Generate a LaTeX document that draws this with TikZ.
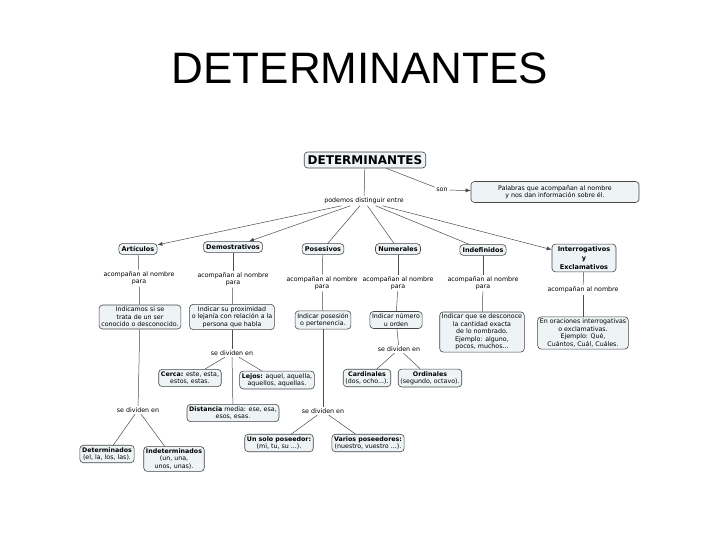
\documentclass[tikz,border=0pt]{standalone}
\usepackage{fontspec}
\newfontfamily\mapfont{DejaVu Sans}
\newfontfamily\titlefont{Liberation Sans}
\usetikzlibrary{arrows.meta}
\definecolor{boxfill}{RGB}{238,243,245}
\definecolor{boxline}{RGB}{70,70,70}

\tikzset{
  concept/.style={draw=boxline,line width=0.6pt,fill=boxfill,rounded corners=3.5pt,align=center,inner sep=2.2pt,font=\mapfont\fontsize{6.3}{7.4}\selectfont},
  maintopic/.style={concept,font=\mapfont\bfseries\fontsize{6.5}{7.6}\selectfont,inner sep=2.8pt},
  linkword/.style={align=center,inner sep=1.5pt,font=\mapfont\fontsize{6.3}{7.2}\selectfont},
  link/.style={draw=black!70,line width=0.5pt},
  arrowlink/.style={link,-{Latex[length=5pt,width=4pt]}}
}

\begin{document}
\begin{tikzpicture}[x=1pt,y=-1pt]
  \useasboundingbox[fill=white] (0,0) rectangle (720,540);
  %title
  \node[font=\titlefont\fontsize{44}{44}\selectfont] (title) at (360,68) {DETERMINANTES};
  %top
  \node[concept,font=\mapfont\bfseries\fontsize{12}{14}\selectfont,inner sep=3.5pt] (det) at (365,160) {DETERMINANTES};
  \node[linkword] (son) at (442,190) {son};
  \node[concept,minimum width=168pt,minimum height=21pt] (def) at (555,192) {Palabras que acompañan al nombre\\y nos dan información sobre él.};
  \node[linkword] (dist) at (364,201) {podemos distinguir entre};
  \draw[link] (det) -- (son);
  \draw[arrowlink] (son) -- (def);
  \draw[link] (det) -- (dist);
  %kinds
  \node[maintopic] (art) at (138,249) {Artículos};
  \node[maintopic] (dem) at (233,247) {Demostrativos};
  \node[maintopic] (pos) at (323,249) {Posesivos};
  \node[maintopic] (num) at (398,249) {Numerales};
  \node[maintopic] (ind) at (483,250) {Indefinidos};
  \node[maintopic,font=\mapfont\bfseries\fontsize{6.5}{8.6}\selectfont,minimum width=64pt] (int) at (584,258) {Interrogativos\\y\\Exclamativos};
  \draw[arrowlink] (dist) -- (art);
  \draw[arrowlink] (dist) -- (dem);
  \draw[link] (dist) -- (pos);
  \draw[link] (dist) -- (num);
  \draw[link] (dist) -- (ind);
  \draw[arrowlink] (dist) -- (int);
  %what they do
  \node[linkword] (artl) at (139,278) {acompañan al nombre\\para};
  \node[linkword] (deml) at (233,279) {acompañan al nombre\\para};
  \node[linkword] (posl) at (322,283) {acompañan al nombre\\para};
  \node[linkword] (numl) at (398,283) {acompañan al nombre\\para};
  \node[linkword] (indl) at (483,283) {acompañan al nombre\\para};
  \node[linkword] (intl) at (583,290) {acompañan al nombre};
  \node[concept] (artd) at (140,317) {Indicamos si se\\trata de un ser\\conocido o desconocido.};
  \node[concept] (demd) at (232,317) {Indicar su proximidad\\o lejanía con relación a la\\persona que habla};
  \node[concept] (posd) at (323,320) {Indicar posesión\\o pertenencia.};
  \node[concept] (numd) at (396,320) {Indicar número\\u orden};
  \node[concept] (indd) at (482,332) {Indicar que se desconoce\\la cantidad exacta\\de lo nombrado.\\Ejemplo: alguno,\\pocos, muchos...};
  \node[concept] (intd) at (583,333) {En oraciones interrogativas\\o exclamativas.\\Ejemplo: Qué,\\Cuántos, Cuál, Cuáles.};
  \foreach \k in {art,dem,pos,num,ind,int}{
    \draw[link] (\k) -- (\k l);
    \draw[link] (\k l) -- (\k d);
  }
  %demostrativos
  \node[linkword] (demsd) at (232,353) {se dividen en};
  \node[concept] (cer) at (190,378) {\textbf{Cerca:} este, esta,\\estos, estas.};
  \node[concept] (lej) at (277,380) {\textbf{Lejos:} aquel, aquella,\\aquellos, aquellas.};
  \node[concept] (med) at (233,413) {\textbf{Distancia} media: ese, esa,\\esos, esas.};
  \draw[link] (demd) -- (demsd);
  \draw[link] (demsd) -- (cer);
  \draw[link] (demsd) -- (lej);
  \draw[link] (demsd) -- (med);
  %articulos
  \node[linkword] (artsd) at (138,410) {se dividen en};
  \node[concept] (deter) at (107,454) {\textbf{Determinados}\\(el, la, los, las).};
  \node[concept] (indet) at (174,459) {\textbf{Indeterminados}\\(un, una,\\unos, unas).};
  \draw[link] (artd) -- (artsd);
  \draw[link] (artsd) -- (deter);
  \draw[link] (artsd) -- (indet);
  %posesivos
  \node[linkword] (possd) at (323,411) {se dividen en};
  \node[concept] (uno) at (279,443) {\textbf{Un solo poseedor:}\\(mi, tu, su ...).};
  \node[concept] (var) at (368,443) {\textbf{Varios poseedores:}\\(nuestro, vuestro ...).};
  \draw[link] (posd) -- (possd);
  \draw[link] (possd) -- (uno);
  \draw[link] (possd) -- (var);
  %numerales
  \node[linkword] (numsd) at (399,349) {se dividen en};
  \node[concept] (car) at (367,378) {\textbf{Cardinales}\\(dos, ocho...).};
  \node[concept] (ord) at (430,378) {\textbf{Ordinales}\\(segundo, octavo).};
  \draw[link] (numd) -- (numsd);
  \draw[link] (numsd) -- (car);
  \draw[link] (numsd) -- (ord);
\end{tikzpicture}
\end{document}
